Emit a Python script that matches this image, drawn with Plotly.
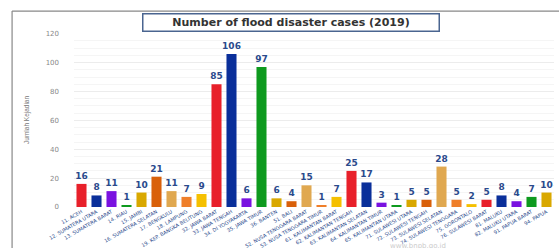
import plotly.graph_objects as go

provinces = ["11. ACEH", "12. SUMATERA UTARA", "13. SUMATERA BARAT", "14. RIAU", "15. JAMBI",
             "16. SUMATERA SELATAN", "17. BENGKULU", "18. LAMPUNG", "19. KEP. BANGKA BELITUNG",
             "32. JAWA BARAT", "33. JAWA TENGAH", "34. DI YOGYAKARTA", "35. JAWA TIMUR", "36. BANTEN",
             "51. BALI", "52. NUSA TENGGARA BARAT", "53. NUSA TENGGARA TIMUR", "61. KALIMANTAN BARAT",
             "62. KALIMANTAN TENGAH", "63. KALIMANTAN SELATAN", "64. KALIMANTAN TIMUR",
             "65. KALIMANTAN UTARA", "71. SULAWESI UTARA", "72. SULAWESI TENGAH",
             "73. SULAWESI SELATAN", "74. SULAWESI TENGGARA", "75. GORONTALO", "76. SULAWESI BARAT",
             "81. MALUKU", "82. MALUKU UTARA", "91. PAPUA BARAT", "94. PAPUA"]
cases = [16, 8, 11, 1, 10, 21, 11, 7, 9, 85, 106, 6, 97, 6, 4, 15, 1, 7, 25, 17, 3, 1, 5, 5,
         28, 5, 2, 5, 8, 4, 7, 10]
palette = ["#e8202a", "#0a2f9a", "#7a12e0", "#0e9a1e", "#d9a800", "#d9600a", "#e0a850",
           "#ef7f2a", "#f5c000"]
colors = [palette[i % len(palette)] for i in range(len(cases))]
y_ticks = [0, 20, 40, 60, 80, 100, 120]

fig = go.Figure(go.Bar(
    x=provinces, y=cases, marker=dict(color=colors, line=dict(width=0)),
    text=cases, textposition="outside", cliponaxis=False, constraintext="none",
    textfont=dict(family="DejaVu Sans", size=9, color="#2a4a8c", weight="bold"),
))

fig.update_layout(
    width=559, height=248,
    margin=dict(l=74, r=5, t=33, b=41, autoexpand=False),
    paper_bgcolor="white", plot_bgcolor="white",
    bargap=0.33, showlegend=False,
    font=dict(family="DejaVu Sans"),
    annotations=[
        dict(text="Number of flood disaster cases (2019)", xref="paper", yref="paper",
             x=0.453, xanchor="center", y=1.008, showarrow=False, yanchor="bottom",
             font=dict(size=11, color="#333333", family="DejaVu Sans", weight="bold"),
             bordercolor="#4a6590", borderwidth=1.5, borderpad=1.5, bgcolor="white", width=292),
        dict(text="Jumlah Kejadian", xref="paper", yref="paper", x=-0.098, y=0.5,
             xanchor="center", textangle=-90, showarrow=False,
             font=dict(size=6.5, color="#777777", family="Liberation Sans")),
        dict(text="www.bnpb.go.id", xref="paper", yref="paper", x=0.78, y=-0.19,
             showarrow=False, yanchor="top", font=dict(size=7, color="#cccccc")),
    ],
    shapes=[
        dict(type="line", xref="paper", yref="paper", x0=-0.129, x1=1.02, y0=1.126, y1=1.126,
             line=dict(color="#888888", width=1.2)),
        dict(type="line", xref="paper", yref="paper", x0=-0.129, x1=-0.129, y0=1.126, y1=-0.3,
             line=dict(color="#888888", width=1.2)),
    ],
)
fig.update_yaxes(range=[0, 120.5], tickvals=y_ticks, showgrid=True, gridcolor="#ececec", gridwidth=1,
                 minor=dict(dtick=5, showgrid=True, gridcolor="#f5f5f5"),
                 tickfont=dict(size=7, color="#888888"), ticklabelstandoff=14, zeroline=False,
                 showline=False, automargin=False)
fig.update_xaxes(tickangle=-30, tickfont=dict(size=5, color="#2a4a8c"), showline=False,
                 ticks="", showgrid=False, automargin=False)

fig.write_html("out.html", config={"displayModeBar": False},
               post_script="document.body.style.margin='0';")
